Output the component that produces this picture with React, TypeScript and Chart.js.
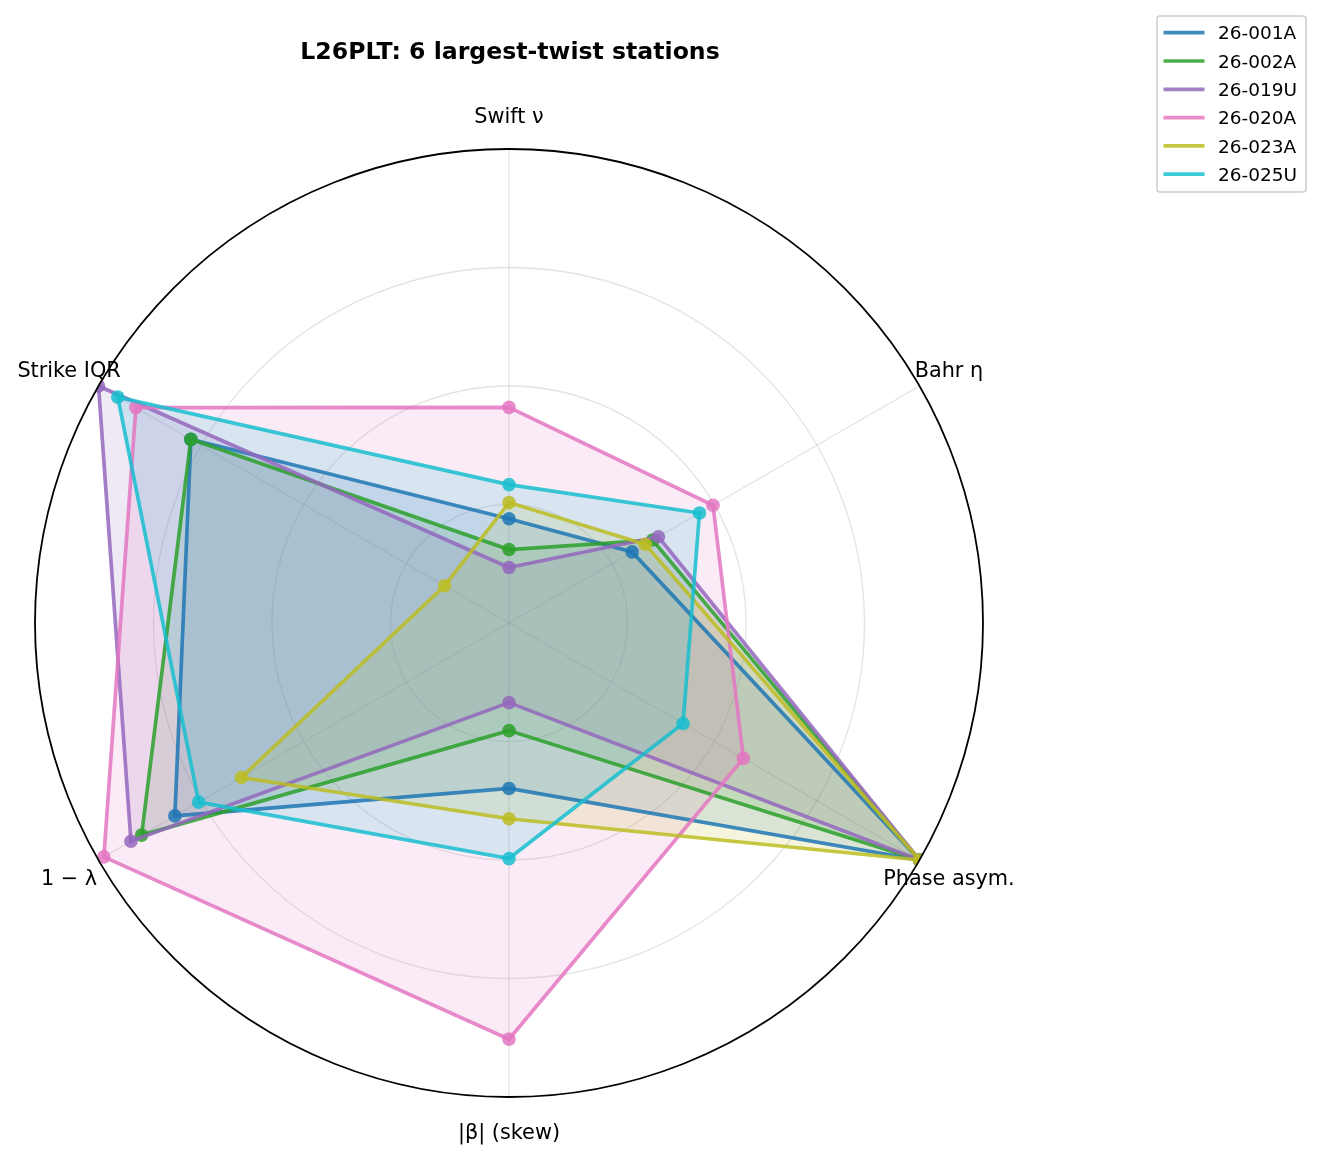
import { useEffect, useRef } from "react";
import { Chart, registerables, type ChartConfiguration, type Plugin } from "chart.js";

Chart.register(...registerables);

const AXES = ["Swift ν", "Bahr η", "Phase asym.", "|β| (skew)", "1 − λ", "Strike IQR"];
const TICKS = [0, 0.25, 0.5, 0.75, 1];

const STATIONS = ["26-001A", "26-002A", "26-019U", "26-020A", "26-023A", "26-025U"];
const COLORS = ["31,119,180", "44,160,44", "148,103,189", "227,119,194", "188,189,34", "23,190,207"];

// normalised scores per axis
const S001A = [0.22, 0.3, 1.0, 0.349, 0.814, 0.775];
const S002A = [0.155, 0.35, 1.0, 0.227, 0.895, 0.775];
const S019U = [0.117, 0.364, 1.0, 0.168, 0.921, 1.0];
const S020A = [0.455, 0.497, 0.571, 0.878, 0.987, 0.909];
const S023A = [0.254, 0.332, 1.0, 0.413, 0.652, 0.157];
const S025U = [0.292, 0.464, 0.424, 0.497, 0.756, 0.953];

const SERIES = [S001A, S002A, S019U, S020A, S023A, S025U];

const FONT = "'DejaVu Sans', sans-serif";

// clip marks to the polar disc, then draw the black spine, labels, title and legend
const polarDecor: Plugin<"radar"> = {
  id: "polarDecor",
  beforeDatasetsDraw(chart) {
    const r: any = chart.scales.r;
    const ctx = chart.ctx;
    ctx.save();
    ctx.beginPath();
    ctx.arc(r.xCenter, r.yCenter, r.drawingArea, 0, Math.PI * 2);
    ctx.clip();
  },
  afterDatasetsDraw(chart) {
    const r: any = chart.scales.r;
    const ctx = chart.ctx;
    ctx.restore();

    ctx.save();
    ctx.beginPath();
    ctx.arc(r.xCenter, r.yCenter, r.drawingArea, 0, Math.PI * 2);
    ctx.strokeStyle = "#000";
    ctx.lineWidth = 1.8;
    ctx.stroke();

    ctx.fillStyle = "#000";
    ctx.textAlign = "center";
    ctx.textBaseline = "alphabetic";
    ctx.font = `20.8px ${FONT}`;
    AXES.forEach((label, i) => {
      const p = r.getPointPosition(i, r.drawingArea + 34);
      ctx.fillText(label, p.x, p.y + 7.5);
    });

    ctx.font = `bold 23.6px ${FONT}`;
    ctx.fillText("L26PLT: 6 largest-twist stations", r.xCenter + 1, 59.3);

    // legend
    const bx = 1157, by = 16, bw = 149, bh = 176;
    ctx.beginPath();
    ctx.roundRect(bx, by, bw, bh, 3);
    ctx.fillStyle = "rgba(255,255,255,0.8)";
    ctx.fill();
    ctx.strokeStyle = "#cccccc";
    ctx.lineWidth = 1.5;
    ctx.stroke();

    ctx.font = `18.5px ${FONT}`;
    ctx.textAlign = "left";
    STATIONS.forEach((name, i) => {
      const y = 32.7 + i * 28.3;
      ctx.beginPath();
      ctx.moveTo(1163.5, y);
      ctx.lineTo(1204.5, y);
      ctx.strokeStyle = `rgba(${COLORS[i]},0.85)`;
      ctx.lineWidth = 3.7;
      ctx.stroke();
      ctx.fillStyle = "#000";
      ctx.fillText(name, 1218, y + 6.75);
    });
    ctx.restore();
  },
};

export default function App() {
  const canvasRef = useRef<HTMLCanvasElement>(null);
  const chartRef = useRef<Chart<"radar"> | null>(null);

  useEffect(() => {
    if (!canvasRef.current) return;
    const config: ChartConfiguration<"radar"> = {
      type: "radar",
      data: {
        labels: AXES,
        datasets: STATIONS.map((name, i) => ({
          label: name,
          data: SERIES[i],
          order: STATIONS.length - i,
          fill: "origin",
          backgroundColor: `rgba(${COLORS[i]},0.15)`,
          borderColor: `rgba(${COLORS[i]},0.85)`,
          borderWidth: 3.7,
          pointRadius: 6.8,
          pointBorderWidth: 0,
          pointBackgroundColor: `rgba(${COLORS[i]},0.85)`,
          tension: 0,
          clip: false,
        })),
      },
      options: {
        animation: false,
        responsive: true,
        maintainAspectRatio: false,
        layout: { padding: { left: 35, right: 340, top: 149, bottom: 62 } },
        scales: {
          r: {
            min: TICKS[0],
            max: TICKS[TICKS.length - 1],
            ticks: { display: false, stepSize: 0.25 },
            pointLabels: { display: false },
            grid: {
              circular: true,
              color: (c: any) => (c.index === TICKS.length - 1 ? "rgba(0,0,0,0)" : "rgba(176,176,176,0.35)"),
              lineWidth: 1.3,
            },
            angleLines: { color: "rgba(176,176,176,0.35)", lineWidth: 1.3 },
          },
        },
        plugins: {
          // all fills under all lines, as in the reference
          filler: { drawTime: "beforeDatasetsDraw" },
          legend: { display: false },
          title: { display: false },
          tooltip: { enabled: false },
        },
      },
      plugins: [polarDecor],
    };

    chartRef.current = new Chart(canvasRef.current, config);
    return () => {
      chartRef.current?.destroy();
      chartRef.current = null;
    };
  }, []);

  return (
    <div style={{ position: "fixed", left: 0, top: 0, width: 1323, height: 1159, background: "#fff" }}>
      <canvas ref={canvasRef} />
    </div>
  );
}
